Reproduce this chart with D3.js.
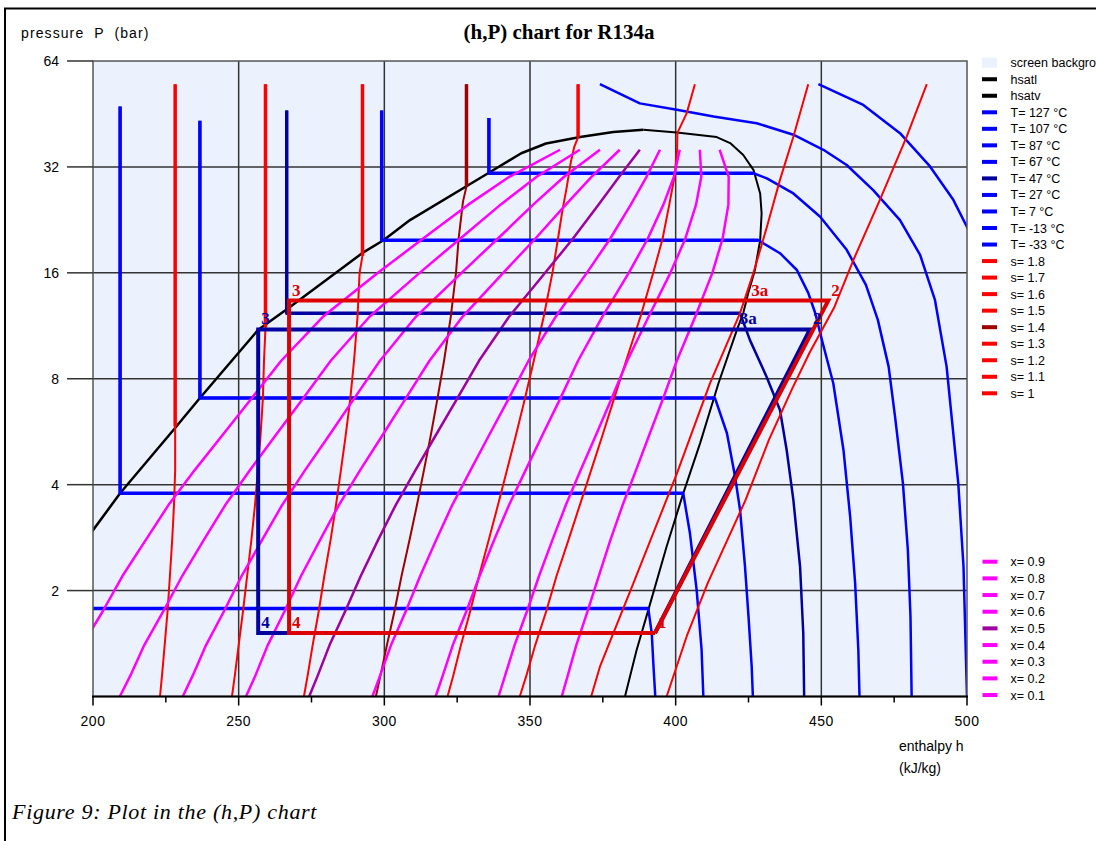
<!DOCTYPE html>
<html><head><meta charset="utf-8">
<script src="https://cdn.jsdelivr.net/npm/d3@7"></script>
<style>body{margin:0;background:#fff}svg{display:block}</style>
</head><body><svg id="c" width="1096" height="841"></svg>
<script>
// ---------------- data ----------------
const pressureTicks = [2, 4, 8, 16, 32, 64];
const enthalpyTicks = [200, 250, 300, 350, 400, 450, 500];
const enthalpyMinorTicks = [225, 275, 325, 375, 425, 475];

// saturation dome [h kJ/kg, P bar]
const hsatl = [[186.7,2.03],[200.0,2.97],[209.3,3.78],[227.6,5.72],[236.7,7.05],[256.6,11.0],[267.6,12.8],[292.8,18.3],[299.7,19.8],[308.8,22.6],[335.9,30.8],[347.0,35.0],[355.5,37.3],[367.2,38.9],[378.6,40.2],[388.9,40.8]];
const hsatv = [[388.9,40.8],[400.4,40.1],[414.1,38.9],[418.7,37.4],[423.2,34.6],[426.7,31.4],[429.0,26.9],[429.5,23.6],[429.0,19.8],[427.2,16.3],[424.9,14.0],[423.2,12.3],[421.0,11.0],[414.7,7.77],[408.4,5.25],[402.6,3.78],[396.9,2.67],[390.6,1.76],[386.6,1.356],[382.6,1.0]];

// isotherms
const tempLabels = ["T= 127 °C","T= 107 °C","T= 87 °C","T= 67 °C","T= 47 °C","T= 27 °C","T= 7 °C","T= -13 °C","T= -33 °C"];
const iso127 = [[449.0,55],[464.4,48.0],[477.0,39.9],[487.3,32.1],[495.3,25.8],[500.5,21.2],[506,17]];
const iso107 = [[374.0,55],[387.7,48.5],[400.4,46.5],[413.0,44.5],[427.8,42.6],[440.4,39.5],[450.7,35.8],[458.7,32.4],[467.8,27.5],[477.0,22.6],[483.9,18.0],[489.0,13.4],[493.0,8.66],[497.0,4.04],[498.8,2.34],[500.0,1.0]];
const iso87 = [[335.9,44.1],[335.9,30.7],[426.7,30.7],[431.3,29.7],[440.4,26.9],[449.6,23.1],[458.7,18.6],[465.3,14.78],[469.4,11.76],[473.1,8.66],[475.3,6.24],[478.0,4.04],[479.7,2.61],[480.6,1.69],[481.0,1.0]];
const iso67 = [[299.1,46.3],[299.1,19.8],[428.4,19.8],[435.8,18.19],[441.6,16.3],[445.5,14.03],[447.9,12.3],[450.2,10.31],[454.1,7.77],[457.6,5.02],[459.9,3.24],[461.6,2.10],[462.7,1.356],[463.1,1.0]];
const iso47 = [[266.5,46.3],[266.5,12.28],[422.1,12.28],[425.5,10.3],[431.2,8.11],[435.8,6.52],[438.1,5.02],[440.4,3.62],[442.7,2.34],[443.8,1.51],[444.1,1.0]];
const iso27 = [[236.7,43.3],[236.7,7.05],[413.5,7.05],[417.6,5.60],[420.4,4.21],[422.1,3.39],[423.8,2.34],[425.0,1.69],[426.1,1.215],[426.5,1.0]];
const iso7 = [[209.3,47.5],[209.3,3.78],[402.6,3.78],[404.9,2.91],[407.2,2.01],[408.9,1.356],[409.5,1.0]];
const isoM13 = [[182.7,47.5],[182.7,1.78],[390.6,1.78],[391.8,1.51],[392.4,1.215],[393.0,1.0]];
const isoM33 = [[156.6,47.5],[156.6,0.74],[377.4,0.74]];

// isentropes
const entropyLabels = ["s= 1.8","s= 1.7","s= 1.6","s= 1.5","s= 1.4","s= 1.3","s= 1.2","s= 1.1","s= 1"];
const s18 = [[486.2,55],[479.3,39.0],[470.1,25.8],[461.0,17.4],[454.5,12.8],[446.0,9.5],[440.0,7.5],[432.0,5.36],[424.0,3.62],[411.0,2.1],[404.0,1.5],[396.9,1.0]];
const s17 = [[445.5,55],[440.4,39.0],[435.8,29.4],[431.3,21.6],[426.7,16.0],[422.1,12.3],[411.8,7.77],[400.4,4.30],[385.5,2.10],[374.0,1.215],[371.0,1.0]];
const s16 = [[406.6,55],[403.8,45.5],[400.6,40.0],[400.5,35.8],[399.6,30],[397.8,25],[395.5,20],[392.3,16],[387.9,12],[383.0,9],[378.8,7],[374.8,5.5],[371.0,4.4],[367.1,3.5],[363.3,2.8],[359.1,2.2],[355.6,1.75],[351.8,1.4],[348.8,1.15],[346.5,1.0]];
const s15 = [[366.5,55],[366.5,38.9],[365.2,36.5],[364.0,33],[362.6,28],[361.1,24],[359.6,20],[357.7,16],[354.7,12],[351.3,9],[348.2,7],[345.1,5.5],[342.1,4.4],[339.0,3.5],[335.9,2.8],[332.5,2.2],[329.5,1.75],[326.3,1.4],[323.7,1.15],[321.7,1.0]];
const s14 = [[328.2,55],[328.2,28.2],[327.0,25.5],[325.5,20],[324.6,16],[322.8,12],[320.5,9],[318.2,7],[315.9,5.5],[313.6,4.4],[311.2,3.5],[308.7,2.8],[305.9,2.2],[303.5,1.75],[300.9,1.4],[298.7,1.15],[297.1,1.0]];
const s13 = [[292.5,55],[292.5,17.9],[291.5,16],[290.8,12],[289.6,9],[288.3,7],[286.7,5.5],[285.1,4.4],[283.4,3.5],[281.6,2.8],[279.4,2.2],[277.5,1.75],[275.4,1.4],[273.7,1.15],[272.4,1.0]];
const s12 = [[259.2,55],[259.2,11.2],[258.7,9],[258.3,7],[257.5,5.5],[256.6,4.4],[255.6,3.5],[254.4,2.8],[252.9,2.2],[251.5,1.75],[250.0,1.4],[248.7,1.15],[247.7,1.0]];
const s11 = [[228.2,55],[228.2,5.85],[228.2,4.4],[227.8,3.5],[227.2,2.8],[226.4,2.2],[225.6,1.75],[224.6,1.4],[223.7,1.15],[223.0,1.0]];
const s10 = [[199.0,55],[199.0,2.94],[198.9,2.2],[198.6,1.4],[198.1,1.0]];

// quality lines: h at each pressure level
const qualityLabels = ["x= 0.9","x= 0.8","x= 0.7","x= 0.6","x= 0.5","x= 0.4","x= 0.3","x= 0.2","x= 0.1"];
const qualityPressures = [35.8,30,25,20,16,12,9,7,5.5,4.4,3.5,2.8,2.2,1.75,1.4,1.15,1.0];
const quality01 = [360.3,342.9,328.8,313.2,297.8,278.9,264.6,254.2,244.2,234.9,225.9,218.3,210.1,203.4,196.4,191.4,187.5];
const quality02 = [367.1,352.3,339.9,326.0,312.1,294.9,281.6,271.9,262.5,253.9,245.4,238.2,230.6,224.2,217.6,212.9,209.2];
const quality03 = [374.0,361.7,351.1,338.9,326.5,310.8,298.5,289.5,280.9,272.8,264.9,258.2,251.0,245.0,238.8,234.3,230.8];
const quality04 = [380.8,371.1,362.3,351.8,340.8,326.8,315.5,307.2,299.2,291.7,284.4,278.1,271.4,265.8,260.0,255.8,252.5];
const quality05 = [387.7,380.6,373.5,364.7,355.2,342.8,332.5,324.9,317.5,310.7,303.9,298.0,291.9,286.6,281.2,277.2,274.2];
const quality06 = [394.6,390.0,384.6,377.5,369.5,358.8,349.5,342.6,335.8,329.6,323.3,317.9,312.3,307.4,302.3,298.6,295.9];
const quality07 = [401.4,399.4,395.8,390.4,383.9,374.8,366.5,360.3,354.1,348.5,342.8,337.8,332.7,328.2,323.5,320.1,317.6];
const quality08 = [408.3,408.8,407.0,403.3,398.2,390.7,383.4,377.9,372.5,367.4,362.3,357.8,353.1,349.0,344.7,341.5,339.2];
const quality09 = [415.1,418.2,418.1,416.1,412.6,406.7,400.4,395.6,390.8,386.4,381.8,377.7,373.6,369.8,365.9,363.0,360.9];

// cycles
const navyCycleH = [392.9, 446.1, 256.7, 256.7, 392.9];
const navyCycleP = [1.515, 11.05, 11.05, 1.515, 1.515];
const redCycleH = [392.9, 452.4, 267.3, 267.3, 392.9];
const redCycleP = [1.515, 13.35, 13.35, 1.515, 1.515];
const navyLabels = ["2","3a","3","4"];
const navyLabelH = [446.1, 421.0, 256.7, 256.7];
const navyLabelP = [11.05, 11.05, 11.05, 1.515];
const redLabels = ["1","2","3a","3","4"];
const redLabelH = [392.9, 452.4, 424.9, 267.3, 267.3];
const redLabelP = [1.515, 13.35, 13.35, 13.35, 1.515];

// ---------------- drawing ----------------
const BG = "#ebf2fd", BLUE = "#0000ff", NAVY = "#0000a0", RED = "#ff0000", DRED = "#a00000", MAG = "#ff00ff", PURP = "#a000a0";
const tempColors = [BLUE,BLUE,BLUE,BLUE,NAVY,BLUE,BLUE,BLUE,BLUE];
const entropyColors = [RED,RED,RED,RED,DRED,RED,RED,RED,RED];
const qualityColors = [MAG,MAG,MAG,MAG,PURP,MAG,MAG,MAG,MAG];

const svg = d3.select("#c");
const x = d3.scaleLinear().domain([200, 500]).range([93, 967]);
const y = d3.scaleLog().base(2).domain([1, 64]).range([696.5, 61]);
const line = d3.line().x(d => x(d[0])).y(d => y(d[1]));

svg.append("rect").attr("width", 1096).attr("height", 841).attr("fill", "#fff");
svg.append("path").attr("d", "M5,841V8.5H1096").attr("fill", "none").attr("stroke", "#000").attr("stroke-width", 2);

svg.append("rect").attr("x", x(200)).attr("y", y(64)).attr("width", x(500) - x(200)).attr("height", y(1) - y(64)).attr("fill", BG);
svg.append("clipPath").attr("id", "clip").append("rect")
  .attr("x", x(200)).attr("y", y(64)).attr("width", x(500) - x(200)).attr("height", y(1) - y(64));

// grid
const grid = svg.append("g").attr("stroke", "#333").attr("stroke-width", 1.5);
grid.selectAll(".gv").data(enthalpyTicks.slice(1, -1)).join("line")
  .attr("x1", d => x(d)).attr("x2", d => x(d)).attr("y1", y(64)).attr("y2", y(1));
grid.selectAll(".gh").data(pressureTicks.slice(0, -1)).join("line")
  .attr("x1", x(200)).attr("x2", x(500)).attr("y1", d => y(d)).attr("y2", d => y(d));

const plot = svg.append("g").attr("clip-path", "url(#clip)").attr("fill", "none").attr("stroke-linejoin", "round");

// saturation lines
plot.append("path").datum(hsatl).attr("d", line).attr("stroke", "#000").attr("stroke-width", 2.5);
plot.append("path").datum(hsatv).attr("d", line).attr("stroke", "#000").attr("stroke-width", 2);

// isotherms
const isotherms = [iso127, iso107, iso87, iso67, iso47, iso27, iso7, isoM13, isoM33];
isotherms.forEach((d, i) => {
  plot.append("path").datum(d).attr("d", line).attr("stroke", tempColors[i]).attr("stroke-width", 2.5);
  if (i >= 2) plot.append("path").datum(d.slice(0, 3)).attr("d", line).attr("stroke", tempColors[i]).attr("stroke-width", 3.5);
});

// isentropes
const isentropes = [s18, s17, s16, s15, s14, s13, s12, s11, s10];
isentropes.forEach((d, i) => {
  plot.append("path").datum(d).attr("d", line).attr("stroke", entropyColors[i]).attr("stroke-width", 2);
  if (i >= 3) plot.append("path").datum(d.slice(0, 2)).attr("d", line).attr("stroke", entropyColors[i]).attr("stroke-width", 3.5);
});

// quality lines
const qualities = [quality09, quality08, quality07, quality06, quality05, quality04, quality03, quality02, quality01];
qualities.forEach((hs, i) => {
  const pts = hs.map((h, k) => [h, qualityPressures[k]]);
  plot.append("path").datum(pts).attr("d", line).attr("stroke", qualityColors[i]).attr("stroke-width", 2.5);
});

// cycles
const navyPts = navyCycleH.map((h, i) => [h, navyCycleP[i]]);
const redPts = redCycleH.map((h, i) => [h, redCycleP[i]]);
plot.append("path").datum(navyPts).attr("d", line).attr("stroke", NAVY).attr("stroke-width", 4).attr("stroke-linejoin", "miter");
plot.append("path").datum(redPts).attr("d", line).attr("stroke", "#dd0000").attr("stroke-width", 4).attr("stroke-linejoin", "miter");

const lab = svg.append("g").attr("font-family", "'Liberation Serif', serif").attr("font-weight", "bold").attr("font-size", 17);
navyLabels.forEach((t, i) => lab.append("text").attr("x", x(navyLabelH[i]) + 3).attr("y", y(navyLabelP[i]) - 5).attr("fill", NAVY).text(t));
redLabels.forEach((t, i) => lab.append("text").attr("x", x(redLabelH[i]) + 3).attr("y", y(redLabelP[i]) - 5).attr("fill", "#dd0000").text(t));

// frame
svg.append("rect").attr("x", x(200)).attr("y", y(64)).attr("width", x(500) - x(200)).attr("height", y(1) - y(64))
  .attr("fill", "none").attr("stroke", "#555").attr("stroke-width", 1.5);
svg.append("line").attr("x1", x(200) - 1).attr("x2", x(500) + 1).attr("y1", y(1)).attr("y2", y(1)).attr("stroke", "#000").attr("stroke-width", 2);

// axes ticks
const axG = svg.append("g").attr("font-family", "'Liberation Sans', Arial, sans-serif").attr("font-size", 14).attr("fill", "#000");
pressureTicks.forEach(p => {
  svg.append("line").attr("x1", 67).attr("x2", x(200)).attr("y1", y(p)).attr("y2", y(p)).attr("stroke", "#333").attr("stroke-width", 1.5);
  axG.append("text").attr("x", 59).attr("y", y(p) + 5).attr("text-anchor", "end").text(p);
});
enthalpyTicks.forEach(h => {
  svg.append("line").attr("x1", x(h)).attr("x2", x(h)).attr("y1", y(1)).attr("y2", y(1) + 9).attr("stroke", "#000").attr("stroke-width", 1.5);
  axG.append("text").attr("x", x(h)).attr("y", 726).attr("text-anchor", "middle").attr("letter-spacing", 0.5).text(h);
});
enthalpyMinorTicks.forEach(h => {
  svg.append("line").attr("x1", x(h)).attr("x2", x(h)).attr("y1", y(1)).attr("y2", y(1) + 6).attr("stroke", "#000").attr("stroke-width", 1.5);
});
axG.append("text").attr("x", 21).attr("y", 38).attr("word-spacing", 5).attr("letter-spacing", 1.1).text("pressure P (bar)");
axG.append("text").attr("x", 899).attr("y", 751).text("enthalpy h");
axG.append("text").attr("x", 899).attr("y", 773).text("(kJ/kg)");

svg.append("text").attr("x", 559).attr("y", 39).attr("text-anchor", "middle")
  .attr("font-family", "'Liberation Serif', serif").attr("font-weight", "bold").attr("font-size", 21).text("(h,P) chart for R134a");
svg.append("text").attr("x", 12).attr("y", 819).attr("letter-spacing", 0.7)
  .attr("font-family", "'Liberation Serif', serif").attr("font-style", "italic").attr("font-size", 22).text("Figure 9: Plot in the (h,P) chart");

// legends
const leg = svg.append("g").attr("font-family", "'Liberation Sans', Arial, sans-serif").attr("font-size", 12.5);
const legendItems = [{label: "screen background", color: BG, box: true}, {label: "hsatl", color: "#000"}, {label: "hsatv", color: "#000"}]
  .concat(tempLabels.map((l, i) => ({label: l, color: tempColors[i]})))
  .concat(entropyLabels.map((l, i) => ({label: l, color: entropyColors[i]})));
legendItems.forEach((d, i) => {
  const cy = 62.7 + i * 16.53;
  if (d.box) leg.append("rect").attr("x", 982).attr("y", cy - 5).attr("width", 15).attr("height", 10).attr("fill", d.color);
  else leg.append("rect").attr("x", 982).attr("y", cy - 2).attr("width", 15).attr("height", 4).attr("fill", d.color);
  leg.append("text").attr("x", 1010.5).attr("y", cy + 4.5).text(d.label);
});
qualityLabels.forEach((l, i) => {
  const cy = 561.7 + i * 16.67;
  leg.append("rect").attr("x", 982.5).attr("y", cy - 2).attr("width", 15).attr("height", 4).attr("fill", qualityColors[i]);
  leg.append("text").attr("x", 1010.5).attr("y", cy + 4.5).text(l);
});
</script></body></html>
